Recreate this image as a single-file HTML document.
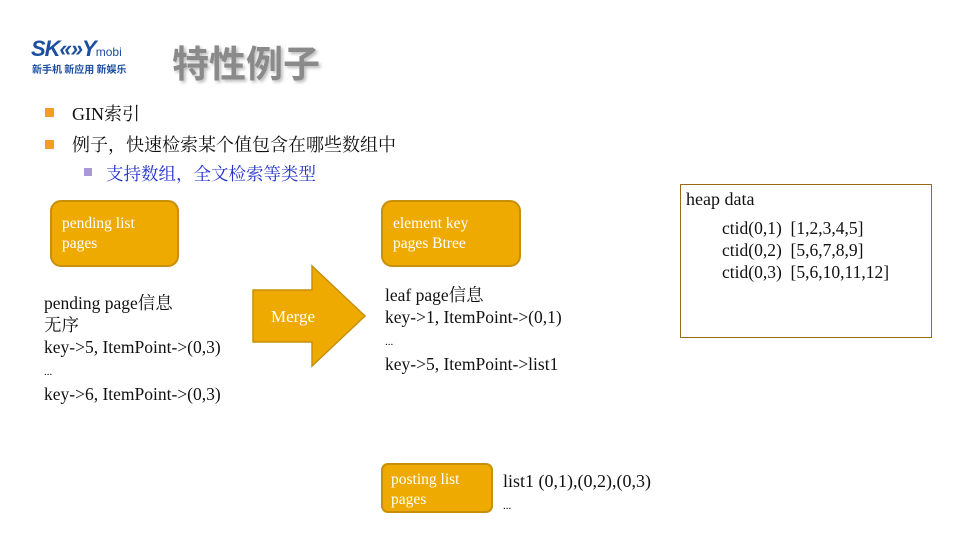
<!DOCTYPE html>
<html><head><meta charset="utf-8"><style>
body{margin:0;width:960px;height:540px;background:#fff;position:relative;overflow:hidden;font-family:"Liberation Serif","Noto Serif CJK SC",serif;color:#111}
.a{position:absolute;white-space:nowrap}
.box{position:absolute;background:#EEAA00;border:2px solid #C8900A;border-radius:11px;box-sizing:border-box;color:#fff;font-size:15.5px;line-height:20px;padding:12px 10px}
.t{font-size:17.5px;line-height:22px}
.sq{position:absolute;width:9px;height:9px;background:#F0A020}
</style></head><body>
<div class="a" style="left:31px;top:36px;font:bold italic 22px 'Liberation Sans',sans-serif;color:#1d4fa0;letter-spacing:-1px">SK«»Y<span style="font-size:12px;font-style:normal;font-weight:normal;color:#1d4fa0;letter-spacing:0">mobi</span></div>
<div class="a" style="left:32px;top:61px;font:bold 10px 'Noto Sans CJK SC',sans-serif;color:#1d4fa0">新手机 新应用 新娱乐</div>
<div class="a" style="left:172px;top:34px;font:bold 37px 'Noto Sans CJK SC',sans-serif;color:#8a8a8a;text-shadow:2px 2px 3px #bbb">特性例子</div>
<div class="sq" style="left:45px;top:108px"></div>
<div class="a" style="left:72px;top:100px;font-size:18px">GIN索引</div>
<div class="sq" style="left:45px;top:140px"></div>
<div class="a" style="left:72px;top:131px;font-size:18px">例子，快速检索某个值包含在哪些数组中</div>
<div class="sq" style="left:84px;top:168px;width:8px;height:8px;background:#a898d8"></div>
<div class="a" style="left:106px;top:161px;font-size:17.5px;color:#2233cc">支持数组，全文检索等类型</div>
<div class="box" style="left:50px;top:200px;width:129px;height:67px">pending list<br>pages</div>
<div class="a t" style="left:44px;top:292px">pending page信息<br>无序<br>key-&gt;5, ItemPoint-&gt;(0,3)<br><span style="font-size:11px">...</span><br>key-&gt;6, ItemPoint-&gt;(0,3)</div>
<svg class="a" style="left:0;top:0" width="960" height="540"><polygon points="253,290 312,290 312,266 365,316 312,366 312,342 253,342" fill="#EEAA00" stroke="#C8900A" stroke-width="1.5"/><text x="271" y="322" fill="#fff" font-size="17" font-family="Liberation Serif">Merge</text></svg>
<div class="box" style="left:381px;top:200px;width:140px;height:67px">element key<br>pages Btree</div>
<div class="a t" style="left:385px;top:284px">leaf page信息<br>key-&gt;1, ItemPoint-&gt;(0,1)<br><span style="font-size:11px">...</span><br>key-&gt;5, ItemPoint-&gt;list1</div>
<div class="a" style="left:680px;top:184px;width:252px;height:154px;border:1.5px solid #9a6a10;box-sizing:border-box"></div>
<div class="a" style="left:686px;top:189px;font-size:18px">heap data</div>
<div class="a t" style="left:722px;top:217px">ctid(0,1)&nbsp; [1,2,3,4,5]<br>ctid(0,2)&nbsp; [5,6,7,8,9]<br>ctid(0,3)&nbsp; [5,6,10,11,12]</div>
<div class="box" style="left:381px;top:463px;width:112px;height:50px;border-radius:7px;padding:5px 8px">posting list<br>pages</div>
<div class="a t" style="left:503px;top:470px;font-size:18px">list1 (0,1),(0,2),(0,3)<br><span style="font-size:11px">...</span></div>
</body></html>
